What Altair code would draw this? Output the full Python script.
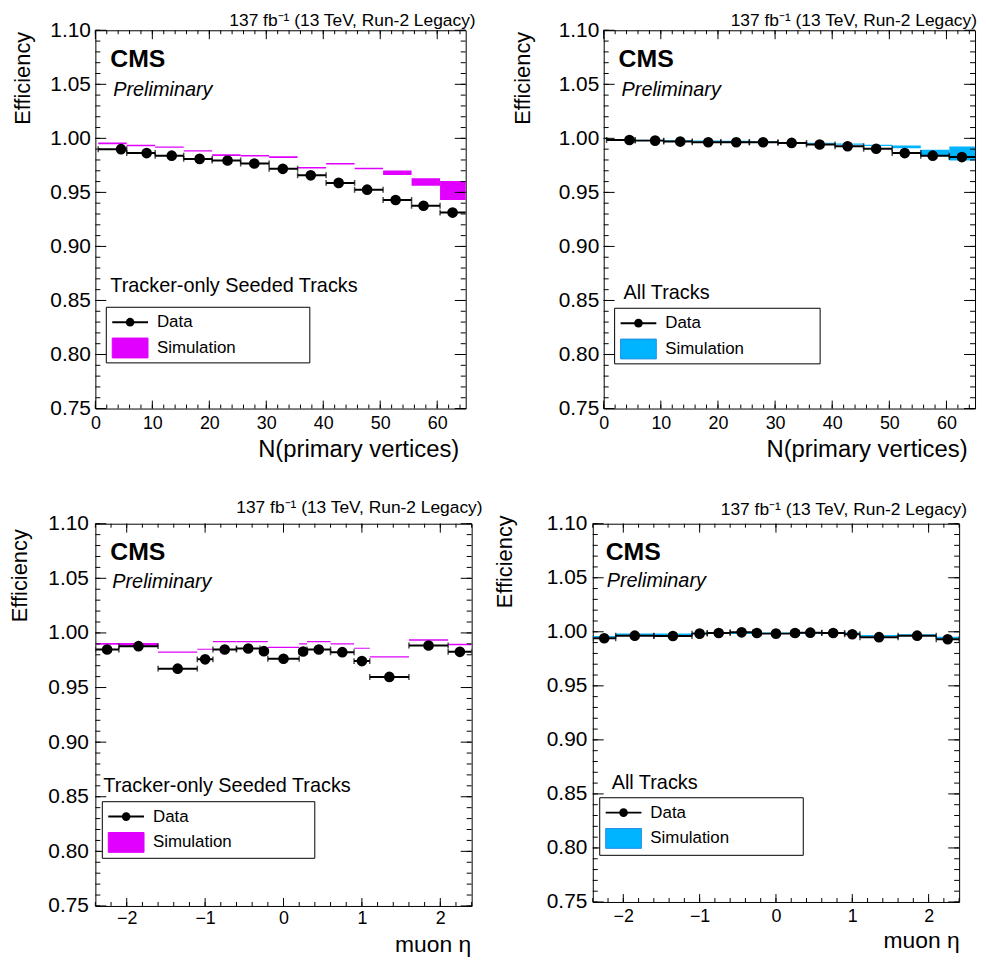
import altair as alt
import pandas as pd

FONT = "Liberation Sans"
MAGENTA = "#e100ff"
CYAN = "#00b4ff"
CYAN_EDGE = "#2a8ee0"

# ---------------- data ----------------
npv_edges = [0.5, 5.5, 10.5, 15.5, 20.5, 25.5, 30.5, 35.5, 40.5, 45.5, 50.5, 55.5, 60.5, 65.5]
npv_mean = [4.5, 9.0, 13.4, 18.3, 23.2, 27.9, 32.9, 37.8, 42.7, 47.7, 52.7, 57.6, 62.7]
eta_edges = [-2.4, -2.1, -1.6, -1.1, -0.9, -0.6, -0.3, -0.2, 0.2, 0.3, 0.6, 0.9, 1.1, 1.6, 2.1, 2.4]
eta_center = [-2.25, -1.85, -1.35, -1.0, -0.75, -0.45, -0.25, 0.0, 0.25, 0.45, 0.75, 1.0, 1.35, 1.85, 2.25]

tos_npv_data = [0.990, 0.9864, 0.984, 0.981, 0.9795, 0.9767, 0.9718, 0.9658, 0.9588, 0.9525, 0.943, 0.9376, 0.9313]
tos_npv_sim = [0.9953, 0.9933, 0.9918, 0.9884, 0.9844, 0.9838, 0.9826, 0.9728, 0.9765, 0.972, 0.9682, 0.9596, 0.9518]
tos_npv_sim_err = [0.0008, 0.0007, 0.0006, 0.0006, 0.0008, 0.0007, 0.0008, 0.0006, 0.0006, 0.0007, 0.0021, 0.0035, 0.0088]

all_npv_data = [0.9985, 0.9979, 0.997, 0.9964, 0.9964, 0.9964, 0.9958, 0.9943, 0.9927, 0.9904, 0.9864, 0.984, 0.9827]
all_npv_sim = [0.9988, 0.9982, 0.9978, 0.9976, 0.9972, 0.9968, 0.9962, 0.9955, 0.9946, 0.9935, 0.9921, 0.9864, 0.986]
all_npv_sim_err = [0.0005, 0.0005, 0.0005, 0.0005, 0.0005, 0.0005, 0.0005, 0.0005, 0.0006, 0.0006, 0.0012, 0.003, 0.0065]

tos_eta_data = [0.9848, 0.9879, 0.9673, 0.9758, 0.9848, 0.9857, 0.9833, 0.9764, 0.983, 0.9848, 0.9824, 0.9742, 0.9597, 0.9885, 0.9827]
tos_eta_sim = [0.990, 0.9895, 0.9824, 0.985, 0.992, 0.992, 0.992, 0.9868, 0.990, 0.992, 0.990, 0.986, 0.978, 0.9935, 0.9894]
tos_eta_sim_err = [0.0008, 0.0012, 0.0006, 0.0005, 0.0006, 0.0006, 0.0006, 0.0005, 0.0006, 0.0005, 0.0006, 0.0005, 0.0006, 0.0006, 0.0006]

all_eta_data = [0.994, 0.9964, 0.9961, 0.9983, 0.9989, 0.9995, 0.9989, 0.9983, 0.9989, 0.9992, 0.9989, 0.9977, 0.995, 0.9964, 0.9931]
all_eta_sim = [0.9955, 0.9977, 0.9977, 0.9986, 0.9986, 0.9986, 0.9986, 0.9986, 0.9986, 0.9986, 0.9986, 0.9986, 0.9964, 0.997, 0.9946]
all_eta_sim_err = [0.0007] * 15

# axis tick values
y_labels = [0.75, 0.80, 0.85, 0.90, 0.95, 1.00, 1.05, 1.10]
y_minor = [round(0.75 + 0.01 * i, 2) for i in range(36)]
npv_labels = [0, 10, 20, 30, 40, 50, 60]
npv_minor = list(range(0, 65, 2))
eta_labels = [-2, -1, 0, 1, 2]
eta_minor = [round(-2.4 + 0.2 * i, 1) for i in range(25)]

HEADER = "137 fb\u207b\u00b9 (13 TeV, Run-2 Legacy)"


def make_df(edges, xm, data, sim, err):
    return pd.DataFrame({
        "lo": edges[:-1], "hi": edges[1:], "xm": xm, "eff": data,
        "slo": [s - e for s, e in zip(sim, err)],
        "shi": [s + e for s, e in zip(sim, err)],
    })


def txt(s, x, y, size, weight="normal", style="normal", align="left", baseline="alphabetic"):
    return alt.Chart(pd.DataFrame({"t": [s]})).mark_text(
        font=FONT, fontSize=size, fontWeight=weight, fontStyle=style,
        align=align, baseline=baseline, color="black"
    ).encode(x=alt.value(x), y=alt.value(y), text="t:N")


def panel(df, xdom, xlabels, xmaj, xmin, xtitle, color, edge, category, P):
    W, H = P["W"], P["H"]
    xsc = alt.Scale(domain=xdom, nice=False, zero=False)
    ysc = alt.Scale(domain=[0.75, 1.10], nice=False, zero=False)
    xax = alt.Axis(values=xlabels, format="d", title=xtitle, labelFontSize=18, titleFontSize=P["xtf"],
                   labelPadding=P["xlp"], titleX=W - P["xtr"], titleY=P["xty"], titleAlign="right",
                   titleBaseline="alphabetic", labelFlush=False, labelOverlap=False,
                   ticks=False, tickSize=0, domain=False, grid=False)
    yax = alt.Axis(values=y_labels, format=".2f", title="Efficiency", labelFontSize=21, titleFontSize=22,
                   labelPadding=P["ylp"], titleX=P["ytx"], titleY=P["yty"], titleAngle=270,
                   titleAlign="right", titleBaseline="middle", labelFlush=False, labelOverlap=False,
                   ticks=False, tickSize=0, domain=False, grid=False)

    def X(f):
        return alt.X(f, type="quantitative", scale=xsc, axis=xax)

    def Y(f):
        return alt.Y(f, type="quantitative", scale=ysc, axis=yax)

    base = alt.Chart(df)
    band = base.mark_rect(color=color, clip=True).encode(x=X("lo"), x2="hi", y=Y("slo"), y2="shi")
    err = base.mark_rule(color="black", strokeWidth=2, clip=True).encode(x=X("lo"), x2="hi", y=Y("eff"))
    caps = base.transform_fold(["lo", "hi"], as_=["k", "xe"]).mark_tick(
        orient="vertical", color="black", thickness=1.5, size=6, clip=True
    ).encode(x=X("xe:Q"), y=Y("eff"))
    pts = base.mark_circle(size=115, color="black", opacity=1, clip=True).encode(x=X("xm"), y=Y("eff"))

    def ytick(vals, length, side):
        c = alt.Chart(pd.DataFrame({"v": vals})).mark_rule(color="black", strokeWidth=1)
        if side == "left":
            return c.encode(y=Y("v"), x=alt.value(0), x2=alt.value(length))
        return c.encode(y=Y("v"), x=alt.value(W), x2=alt.value(W - length))

    def xtick(vals, length, side):
        c = alt.Chart(pd.DataFrame({"v": vals})).mark_rule(color="black", strokeWidth=1)
        if side == "top":
            return c.encode(x=X("v"), y=alt.value(0), y2=alt.value(length))
        return c.encode(x=X("v"), y=alt.value(H), y2=alt.value(H - length))

    ticks = [ytick(y_minor, 5, "left"), ytick(y_labels, 11, "left"),
             ytick(y_minor, 5, "right"), ytick(y_labels, 11, "right"),
             xtick(xmin, 4, "top"), xtick(xmaj, 9, "top"),
             xtick(xmin, 4, "bottom"), xtick(xmaj, 8, "bottom")]

    one = pd.DataFrame({"a": [0]})
    bx0, bx1, by0, by1 = P["box"]
    ly = by0 + 15
    sy0, sy1 = by0 + 31, by0 + 51
    lx0, lx1 = bx0 + 6, bx0 + 42
    legend = [
        alt.Chart(one).mark_rect(fill="white", stroke="black", strokeWidth=1).encode(
            x=alt.value(bx0), x2=alt.value(bx1), y=alt.value(by0), y2=alt.value(by1)),
        alt.Chart(one).mark_rule(color="black", strokeWidth=2).encode(
            x=alt.value(lx0), x2=alt.value(lx1), y=alt.value(ly)),
        alt.Chart(one).mark_circle(color="black", opacity=1, size=75).encode(
            x=alt.value((lx0 + lx1) / 2), y=alt.value(ly)),
        alt.Chart(one).mark_rect(fill=color, stroke=edge, strokeWidth=1).encode(
            x=alt.value(lx0), x2=alt.value(lx1), y=alt.value(sy0), y2=alt.value(sy1)),
        txt("Data", lx1 + 9, ly, 17, baseline="middle"),
        txt("Simulation", lx1 + 9, (sy0 + sy1) / 2, 17, baseline="middle"),
    ]

    texts = [
        txt(HEADER, W + P["tdx"], -P["hb"], 17.5, align="right"),
        txt("CMS", P["cms"][0], P["cms"][1], 25, weight="bold"),
        txt("Preliminary", P["pre"][0], P["pre"][1], 20, style="italic"),
        txt(category, P["cat"][0], P["cat"][1], 20),
    ]

    return alt.layer(band, err, caps, pts, *ticks, *texts, *legend).properties(width=W, height=H)


P1 = dict(W=373, H=381, xlp=6, xtr=7, xty=48, xtf=24, ylp=5, ytx=-73, yty=1, hb=4, tdx=10,
          cms=(15, 37), pre=(18, 66), cat=(15, 264), box=(11, 216, 279, 335))
P2 = dict(W=374, H=381, xlp=6, xtr=8, xty=48, xtf=24, ylp=5, ytx=-82, yty=1, hb=4, tdx=2,
          cms=(15, 37), pre=(18, 66), cat=(20, 271), box=(11, 218, 280, 336))
P3 = dict(W=379, H=385, xlp=4, xtr=1, xty=46, xtf=23, ylp=7, ytx=-76, yty=5, hb=11, tdx=11,
          cms=(15, 37), pre=(17, 65), cat=(8, 270), box=(7, 221, 280, 337))
P4 = dict(W=369, H=381, xlp=6, xtr=0, xty=46, xtf=23, ylp=6, ytx=-89, yty=-9, hb=9, tdx=8,
          cms=(13, 37), pre=(14, 64), cat=(19, 267), box=(7, 212, 276, 334))

df1 = make_df(npv_edges, npv_mean, tos_npv_data, tos_npv_sim, tos_npv_sim_err)
df2 = make_df(npv_edges, npv_mean, all_npv_data, all_npv_sim, all_npv_sim_err)
df3 = make_df(eta_edges, eta_center, tos_eta_data, tos_eta_sim, tos_eta_sim_err)
df4 = make_df(eta_edges, eta_center, all_eta_data, all_eta_sim, all_eta_sim_err)

p1 = panel(df1, [0, 65], npv_labels, npv_labels, npv_minor, "N(primary vertices)", MAGENTA, MAGENTA,
           "Tracker-only Seeded Tracks", P1)
p2 = panel(df2, [0, 65], npv_labels, npv_labels, npv_minor, "N(primary vertices)", CYAN, CYAN_EDGE,
           "All Tracks", P2)
p3 = panel(df3, [-2.4, 2.4], eta_labels, eta_labels, eta_minor, "muon \u03b7", MAGENTA, MAGENTA,
           "Tracker-only Seeded Tracks", P3)
p4 = panel(df4, [-2.4, 2.4], eta_labels, eta_labels, eta_minor, "muon \u03b7", CYAN, CYAN_EDGE,
           "All Tracks", P4)

chart = alt.vconcat(
    alt.hconcat(p1, p2, spacing=34),
    alt.hconcat(p3, p4, spacing=9),
    spacing=36,
).properties(
    padding={"left": 0, "top": 0, "right": 0, "bottom": 0}
).configure(font=FONT).configure_view(
    stroke="black", strokeWidth=1
).configure_axis(
    labelFont=FONT, titleFont=FONT, labelColor="black", titleColor="black", titleFontWeight="normal"
)

chart.save("out.html", embed_options={"renderer": "svg", "actions": False})
